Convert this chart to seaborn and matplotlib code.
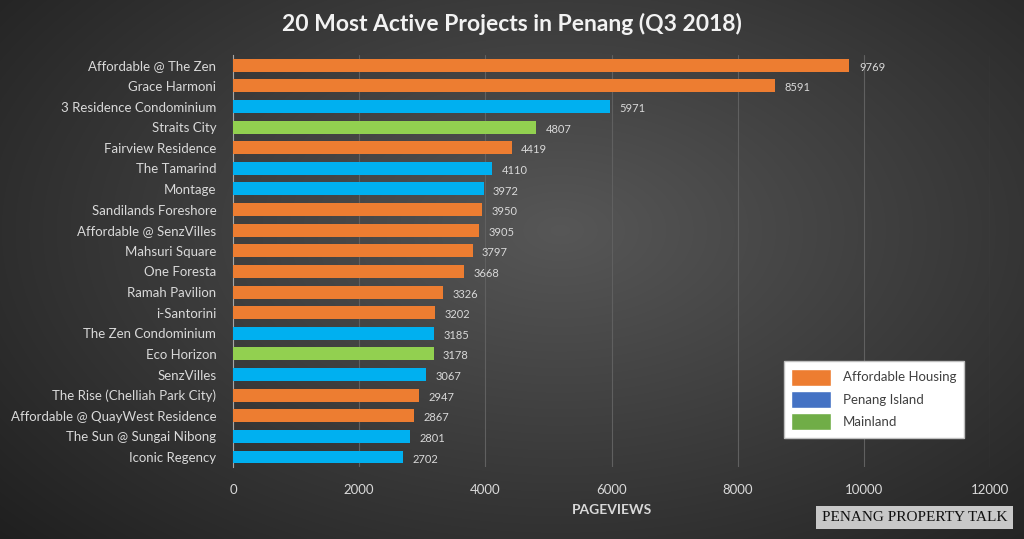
import numpy as np
import pandas as pd
import matplotlib.pyplot as plt
import matplotlib.patches as mpatches
import seaborn as sns

projects = ['Affordable @ The Zen', 'Grace Harmoni', '3 Residence Condominium', 'Straits City',
            'Fairview Residence', 'The Tamarind', 'Montage', 'Sandilands Foreshore',
            'Affordable @ SenzVilles', 'Mahsuri Square', 'One Foresta', 'Ramah Pavilion',
            'i-Santorini', 'The Zen Condominium', 'Eco Horizon', 'SenzVilles',
            'The Rise (Chelliah Park City)', 'Affordable @ QuayWest Residence',
            'The Sun @ Sungai Nibong', 'Iconic Regency']
pageviews = [9769, 8591, 5971, 4807, 4419, 4110, 3972, 3950, 3905, 3797,
             3668, 3326, 3202, 3185, 3178, 3067, 2947, 2867, 2801, 2702]
category = ['Affordable Housing', 'Affordable Housing', 'Penang Island', 'Mainland',
            'Affordable Housing', 'Penang Island', 'Penang Island', 'Affordable Housing',
            'Affordable Housing', 'Affordable Housing', 'Affordable Housing', 'Affordable Housing',
            'Affordable Housing', 'Penang Island', 'Mainland', 'Penang Island',
            'Affordable Housing', 'Affordable Housing', 'Penang Island', 'Penang Island']
xticks = [0, 2000, 4000, 6000, 8000, 10000, 12000]

bar_colors = {'Affordable Housing': '#ED7D31', 'Penang Island': '#00B0F0', 'Mainland': '#92D050'}
legend_colors = {'Affordable Housing': '#ED7D31', 'Penang Island': '#4472C4', 'Mainland': '#70AD47'}

df = pd.DataFrame({'project': projects, 'views': pageviews, 'cat': category})

sns.set_style('dark')
plt.rcParams['font.family'] = ['Lato', 'DejaVu Sans']

fig = plt.figure(figsize=(10.24, 5.39), dpi=100)

# radial gradient background
bg = fig.add_axes([0, 0, 1, 1])
yy, xx = np.mgrid[0:539, 0:1024]
r = np.sqrt(((xx - 560) / 700.0) ** 2 + ((yy - 230) / 420.0) ** 2)
shade = np.clip(0.34 - 0.2 * r, 0.12, 0.34)
bg.imshow(np.dstack([shade, shade, shade]), aspect='auto', extent=[0, 1, 0, 1])
bg.axis('off')

ax = fig.add_axes([0.2275, 0.133, 0.7395, 0.765])
ax.set_facecolor('none')
sns.barplot(data=df, x='views', y='project', hue='cat', palette=bar_colors,
            dodge=False, width=0.63, saturation=1, linewidth=0, ax=ax, legend=False, zorder=3)

for i, v in enumerate(pageviews):
    ax.text(v + 150, i + 0.1, str(v), color='#d9d9d9', fontsize=8, va='center', ha='left')

ax.set_xlim(0, 12000)
ax.set_xticks(xticks)
ax.set_ylim(19.5, -0.5)
ax.grid(axis='x', color='#606060', linewidth=0.8, zorder=0)
ax.grid(axis='y', visible=False)
for s in ['top', 'right', 'bottom']:
    ax.spines[s].set_visible(False)
ax.spines['left'].set_color('#a6a6a6')
ax.tick_params(axis='both', length=0, colors='#d9d9d9')
ax.tick_params(axis='y', labelsize=9.5, pad=12)
ax.tick_params(axis='x', labelsize=9.5, pad=12)
ax.set_ylabel('')
ax.set_xlabel('PAGEVIEWS', color='#d9d9d9', fontsize=10, fontweight='bold', labelpad=6)

fig.text(0.5, 0.955, '20 Most Active Projects in Penang (Q3 2018)', ha='center', va='center',
         color='#f2f2f2', fontsize=16.5, fontweight='bold')

handles = [mpatches.Patch(facecolor=legend_colors[k], label=k) for k in legend_colors]
leg = ax.legend(handles=handles, loc='lower right', bbox_to_anchor=(0.9745, 0.055),
                frameon=True, fancybox=False, fontsize=9.5, handlelength=3.0, handleheight=1.6,
                borderpad=0.6, labelspacing=0.4, handletextpad=0.9)
leg.get_frame().set_facecolor('white')
leg.get_frame().set_edgecolor('#bfbfbf')
leg.get_frame().set_alpha(1)
for t in leg.get_texts():
    t.set_color('#404040')

fig.text(0.893, 0.04, 'PENANG PROPERTY TALK', ha='center', va='center', fontsize=11,
         family='Liberation Serif', color='#111111',
         bbox=dict(boxstyle='square,pad=0.35', facecolor='#c8c8c8', edgecolor='none'))

fig.savefig('out.png', dpi=100)
